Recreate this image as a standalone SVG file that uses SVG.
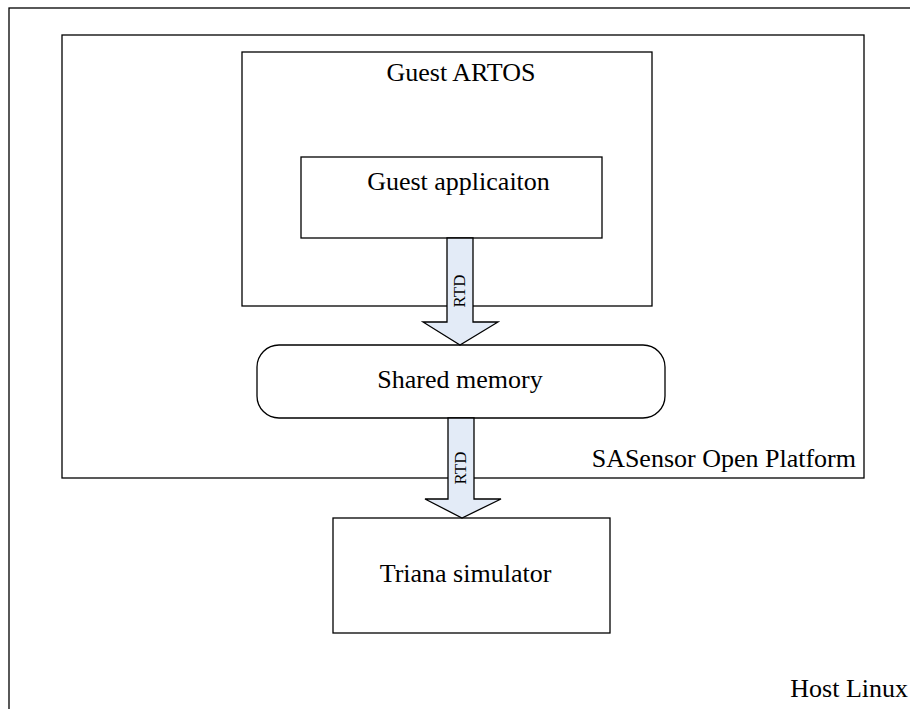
<svg xmlns="http://www.w3.org/2000/svg" width="910" height="709" viewBox="0 0 910 709">
<style>
.box{fill:#fff;stroke:#000;stroke-width:1.3}
.t{font-family:"Liberation Serif",serif;font-size:26px;fill:#000}
.arr{fill:#e3ebf7;stroke:#000;stroke-width:1.3;stroke-linejoin:miter}
.rtd{font-family:"Liberation Serif",serif;font-size:17px;fill:#000}
</style>
<rect width="910" height="709" fill="#fff"/>
<g id="host">
<rect class="box" x="9" y="8" width="905" height="710" style="fill:none"/>
<text class="t" x="908" y="697" text-anchor="end">Host Linux</text>
</g>
<g id="sasensor">
<rect class="box" x="62" y="35" width="802" height="443"/>
<text class="t" x="856" y="467" text-anchor="end">SASensor Open Platform</text>
</g>
<g id="artos">
<rect class="box" x="242" y="52" width="410" height="254"/>
<text class="t" x="461" y="81" text-anchor="middle">Guest ARTOS</text>
</g>
<g id="app">
<rect class="box" x="301" y="157" width="301" height="81"/>
<text class="t" x="458.5" y="190" text-anchor="middle">Guest applicaiton</text>
</g>
<g id="shm">
<rect class="box" x="257" y="345" width="408" height="73" rx="22" ry="22"/>
<text class="t" x="460" y="388" text-anchor="middle">Shared memory</text>
</g>
<g id="triana">
<rect class="box" x="333" y="518" width="277" height="115"/>
<text class="t" x="465.5" y="582" text-anchor="middle">Triana simulator</text>
</g>
<g id="connectors">
<path class="arr" d="M447 238 L473 238 L473 322 L498 322 L460 345 L423 322 L447 322 Z"/>
<text class="rtd" transform="translate(465 291) rotate(-90)" text-anchor="middle">RTD</text>
<path class="arr" d="M448 418 L474 418 L474 499 L501 499 L462 518 L425 499 L448 499 Z"/>
<text class="rtd" transform="translate(466 468) rotate(-90)" text-anchor="middle">RTD</text>
</g>
</svg>
